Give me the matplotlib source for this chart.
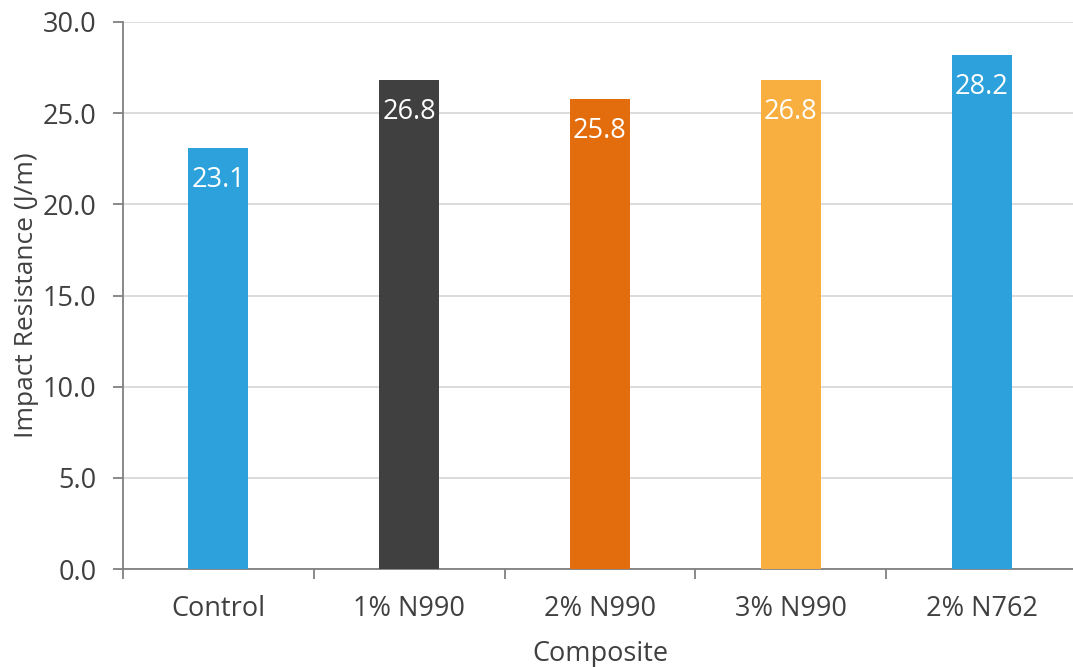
import matplotlib
matplotlib.use("Agg")
import matplotlib.pyplot as plt
from matplotlib.ticker import FixedLocator, NullFormatter, FormatStrFormatter

plt.rcParams['font.family'] = ['Open Sans', 'DejaVu Sans']

categories = ["Control", "1% N990", "2% N990", "3% N990", "2% N762"]
values = [23.1, 26.8, 25.8, 26.8, 28.2]
colors = ["#2CA1DC", "#404040", "#E36C0C", "#F9AE40", "#2CA1DC"]

fig = plt.figure(figsize=(10.73, 6.67), dpi=100)
ax = fig.add_axes([123/1073, 1-569/667, (1077-123)/1073, (569-22)/667])

x = list(range(len(categories)))
bars = ax.bar(x, values, width=0.315, color=colors, zorder=3)
for xi, v in zip(x, values):
    ax.annotate(f"{v:.1f}", xy=(xi, v), xytext=(0, -32), textcoords="offset pixels",
                ha="center", va="center", color="white", fontsize=19.5, zorder=4)

ax.set_xlim(-0.5, 4.5)
ax.set_ylim(0, 30)
ax.set_yticks([0, 5, 10, 15, 20, 25, 30])
ax.yaxis.set_major_formatter(FormatStrFormatter("%.1f"))
ax.yaxis.grid(True, color="#D9D9D9", linewidth=1.3, zorder=0)

ax.xaxis.set_major_locator(FixedLocator([-0.5, 0.5, 1.5, 2.5, 3.5, 4.5]))
ax.xaxis.set_major_formatter(NullFormatter())
ax.xaxis.set_minor_locator(FixedLocator(x))
ax.set_xticklabels(categories, minor=True)
ax.tick_params(axis="x", which="major", length=7, width=1.3, color="#808080", direction="out")
ax.tick_params(axis="x", which="minor", length=0, pad=19, labelsize=19.5, labelcolor="#404040")
ax.tick_params(axis="y", length=7, width=1.3, color="#808080", direction="out", pad=12,
               labelsize=19.5, labelcolor="#404040")

for s in ["top", "right"]:
    ax.spines[s].set_visible(False)
for s in ["left", "bottom"]:
    ax.spines[s].set_color("#808080")
    ax.spines[s].set_linewidth(1.3)

ax.set_xlabel("Composite", fontsize=19.5, color="#404040", labelpad=12)
ax.set_ylabel("Impact Resistance (J/m)", fontsize=19, color="#404040", labelpad=3)

fig.savefig("out.png", dpi=100)
